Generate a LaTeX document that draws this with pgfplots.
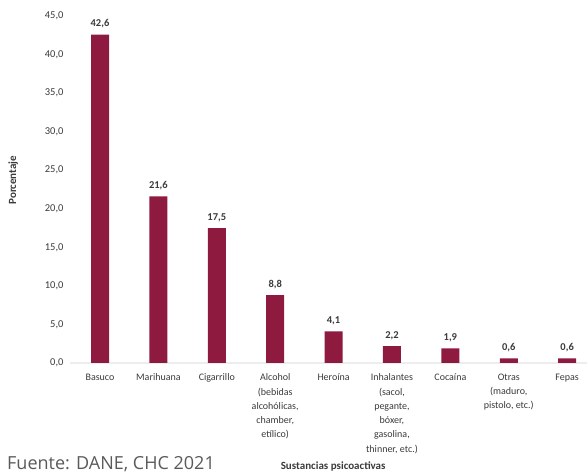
\documentclass[border=0pt]{standalone}
\usepackage{pgfplots}
\pgfplotsset{compat=1.18}
\usepackage{fontspec}
\setmainfont{Carlito}
\newfontfamily\srcfont{Open Sans}
\definecolor{barred}{HTML}{8F1A40}
\definecolor{txt}{HTML}{3A3A3A}
\definecolor{srcgray}{HTML}{5A5A5A}

\begin{document}
\begin{tikzpicture}[x=1pt,y=1pt]
\useasboundingbox (0,0) rectangle (587,474);
\begin{axis}[
  at={(70pt,111pt)}, anchor=south west,
  scale only axis, width=517pt, height=347pt,
  xmin=-0.514, xmax=8.34, ymin=0, ymax=45,
  ybar, bar width=18pt,
  axis x line*=bottom, axis y line*=left,
  x axis line style={draw=black!7, line width=2.5pt},
  y axis line style={draw=none},
  tick style={draw=none},
  ytick={0,5,...,45},
  yticklabel style={font=\fontsize{10.5}{12}\selectfont, text=txt, xshift=-3pt,
    /pgf/number format/.cd, fixed, fixed zerofill, precision=1, use comma,
    assume math mode=true},
  xtick={0,...,8},
  xticklabels={Basuco, Marihuana, Cigarrillo,
    {Alcohol\\(bebidas\\alcohólicas,\\chamber,\\etílico)},
    Heroína,
    {Inhalantes\\(sacol,\\pegante,\\bóxer,\\gasolina,\\thinner, etc.)},
    Cocaína,
    {Otras\\(maduro,\\pistolo, etc.)},
    Fepas},
  xticklabel style={align=center, font=\fontsize{10}{14.3}\selectfont, text=txt, yshift=-3pt},
  ylabel={Porcentaje},
  ylabel style={at={(axis description cs:-0.11,0.527)}, anchor=center,
    font=\bfseries\fontsize{11}{12}\selectfont, text=txt},
  xlabel={Sustancias psicoactivas},
  xlabel style={at={(axis description cs:0.509,-0.297)}, anchor=center,
    font=\bfseries\fontsize{11}{12}\selectfont, text=txt},
  nodes near coords,
  every node near coord/.append style={font=\bfseries\fontsize{10.5}{12}\selectfont,
    text=txt, yshift=3pt,
    /pgf/number format/.cd, fixed, fixed zerofill, precision=1, use comma,
    assume math mode=true},
]
\addplot[fill=barred, draw=none] coordinates {
  (0,42.6) (1,21.6) (2,17.5) (3,8.8) (4,4.1)
  (5,2.2) (6,1.9) (7,0.6) (8,0.6)
};
\end{axis}
\node[anchor=base west, text=srcgray, font=\srcfont\fontsize{18}{21}\selectfont, inner sep=0pt]
  at (7,4) {Fuente: DANE, CHC 2021};
\end{tikzpicture}
\end{document}
